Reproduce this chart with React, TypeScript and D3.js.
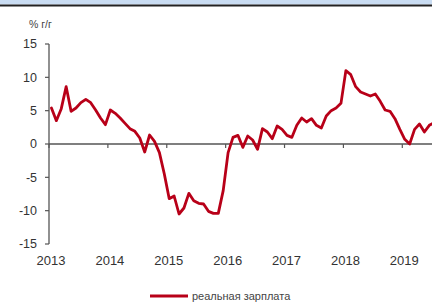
import * as d3 from "d3";

// years on the axis (tick at january of each)
const years = ["2013", "2014", "2015", "2016", "2017", "2018", "2019"];

// real wage, % y/y, monthly from jan 2013
const realWage = [
  5.4, 3.5, 5.3, 8.6, 4.9, 5.4, 6.2, 6.7, 6.2, 5.1, 3.9, 2.9,
  5.1, 4.6, 3.9, 3.1, 2.3, 1.9, 0.9, -1.2, 1.35, 0.4, -1.3, -4.5,
  -8.2, -7.8, -10.5, -9.6, -7.4, -8.5, -8.9, -9.0, -10.1, -10.4, -10.4, -7.0,
  -1.3, 1.0, 1.3, -0.5, 1.2, 0.6, -0.8, 2.3, 1.8, 0.8, 2.7, 2.2,
  1.3, 1.0, 2.8, 3.9, 3.3, 3.8, 2.8, 2.4, 4.2, 5.0, 5.4, 6.1,
  11.0, 10.4, 8.6, 7.8, 7.5, 7.2, 7.5, 6.4, 5.1, 4.9, 3.8, 2.2,
  0.7, 0.0, 2.2, 3.0, 1.8, 2.8, 3.2,
];

const yTicks = [-15, -10, -5, 0, 5, 10, 15];

const W = 432;
const H = 302;
const font = "'Liberation Sans', Arial, sans-serif";

export default function App() {
  const x = d3.scaleLinear().domain([0, 72]).range([49, 402.3]);
  const y = d3.scaleLinear().domain([-15, 15]).range([244, 44]);

  const line = d3
    .line<number>()
    .x((_, i) => x(i + 0.5))
    .y((d) => y(d))
    .curve(d3.curveLinear);

  return (
    <div style={{ position: "fixed", left: 0, top: 0, width: W, height: H, background: "#fff" }}>
      <svg width={W} height={H} viewBox={`0 0 ${W} ${H}`} style={{ display: "block" }}>
        <defs>
          <clipPath id="plot">
            <rect x={49} y={30} width={W - 49} height={230} />
          </clipPath>
        </defs>
        <rect width={W} height={H} fill="#fff" />

        {/* header band, cut off at the top */}
        <rect x={0} y={0} width={W} height={4.5} fill="#c9dcf2" />
        <line x1={0} x2={W} y1={5.5} y2={5.5} stroke="#222" strokeWidth={2} />

        {/* unit */}
        <text x={29} y={28} fontFamily={font} fontSize={10.5} fill="#444">
          % г/г
        </text>

        {/* y axis */}
        <line x1={49} x2={49} y1={y(15)} y2={y(-15)} stroke="#555" strokeWidth={1.3} />
        {yTicks.map((t) => (
          <g key={t}>
            <line x1={45} x2={49} y1={y(t)} y2={y(t)} stroke="#555" strokeWidth={1.2} />
            <text
              x={37}
              y={y(t)}
              dy="0.35em"
              textAnchor="end"
              fontFamily={font}
              fontSize={12.5}
              fill="#333"
            >
              {t}
            </text>
          </g>
        ))}

        {/* zero line with year ticks */}
        <line x1={49} x2={W} y1={y(0)} y2={y(0)} stroke="#555" strokeWidth={1.3} />
        {years.map((yr, i) => (
          <g key={yr}>
            <line x1={x(i * 12)} x2={x(i * 12)} y1={y(0)} y2={y(0) + 4} stroke="#555" strokeWidth={1.2} />
            <text
              x={x(i * 12) + 2}
              y={265}
              textAnchor="middle"
              fontFamily={font}
              fontSize={13}
              fill="#333"
            >
              {yr}
            </text>
          </g>
        ))}

        {/* series */}
        <path
          d={line(realWage) ?? ""}
          clipPath="url(#plot)"
          fill="none"
          stroke="#b80018"
          strokeWidth={2.8}
          strokeLinejoin="round"
          strokeLinecap="round"
        />

        {/* legend */}
        <line x1={150} x2={188} y1={296} y2={296} stroke="#b80018" strokeWidth={2.8} />
        <text x={192} y={300} fontFamily={font} fontSize={11} fill="#444">
          реальная зарплата
        </text>
      </svg>
    </div>
  );
}
